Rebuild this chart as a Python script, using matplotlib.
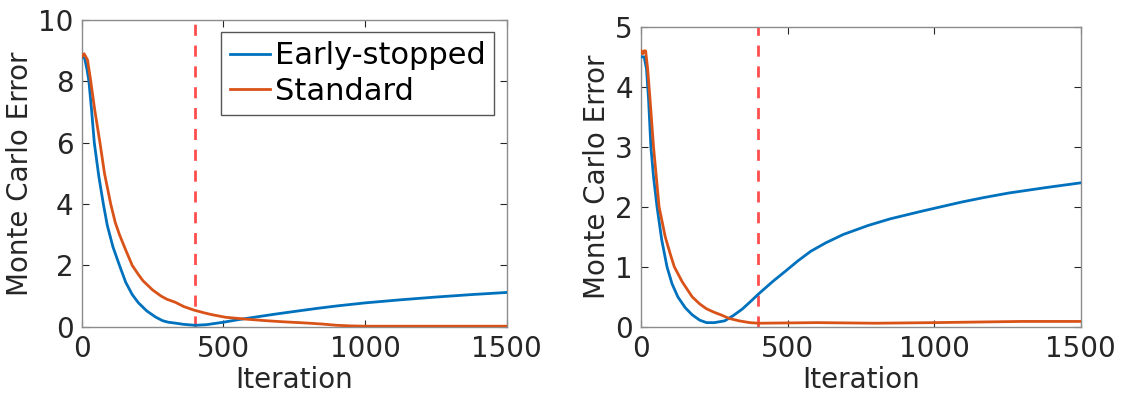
import numpy as np
import matplotlib.pyplot as plt

# left panel
it_l_es = [0, 10, 18, 25, 35, 44, 60, 76, 90, 110, 133, 155, 178, 200, 229, 260, 285, 305, 330, 360, 400, 440, 500, 550, 600, 680, 750, 830, 900, 1000, 1125, 1250, 1375, 1500]
err_l_es = [8.8, 8.75, 8.4, 8.0, 7.0, 6.0, 4.9, 4.0, 3.3, 2.6, 2.0, 1.45, 1.05, 0.78, 0.52, 0.32, 0.2, 0.15, 0.12, 0.08, 0.05, 0.07, 0.15, 0.23, 0.3, 0.41, 0.5, 0.6, 0.68, 0.78, 0.88, 0.97, 1.05, 1.12]
it_l_st = [0, 8, 20, 30, 45, 64, 80, 102, 118, 133, 155, 178, 200, 216, 250, 280, 300, 330, 360, 394, 430, 457, 508, 580, 650, 700, 800, 850, 900, 950, 1000, 1200, 1500]
err_l_st = [8.8, 8.9, 8.7, 8.1, 7.1, 6.0, 5.0, 4.0, 3.4, 3.0, 2.5, 2.0, 1.7, 1.5, 1.2, 1.0, 0.9, 0.8, 0.66, 0.55, 0.46, 0.4, 0.31, 0.25, 0.2, 0.17, 0.12, 0.09, 0.05, 0.03, 0.02, 0.02, 0.02]

# right panel
it_r_es = [0, 10, 18, 25, 33, 42, 54, 70, 88, 105, 125, 150, 174, 200, 223, 250, 285, 315, 346, 375, 401, 450, 493, 535, 579, 630, 690, 775, 850, 960, 1094, 1170, 1254, 1380, 1500]
err_r_es = [4.5, 4.5, 4.3, 3.8, 3.0, 2.5, 2.0, 1.45, 1.0, 0.72, 0.5, 0.32, 0.2, 0.11, 0.07, 0.07, 0.1, 0.19, 0.3, 0.43, 0.55, 0.76, 0.93, 1.1, 1.26, 1.40, 1.54, 1.69, 1.80, 1.93, 2.08, 2.155, 2.23, 2.32, 2.4]
it_r_st = [0, 5, 10, 15, 22, 30, 42, 61, 82, 100, 113, 140, 174, 200, 223, 250, 272, 300, 334, 370, 401, 600, 800, 1000, 1300, 1500]
err_r_st = [4.6, 4.55, 4.6, 4.6, 4.3, 3.8, 3.0, 2.0, 1.5, 1.2, 1.0, 0.75, 0.5, 0.38, 0.3, 0.24, 0.2, 0.14, 0.1, 0.07, 0.06, 0.07, 0.06, 0.07, 0.09, 0.09]

stop_iter = 400

blue = '#0072BD'
orange = '#D95319'
dark = '#262626'

plt.rcParams['font.family'] = 'DejaVu Sans'

fig = plt.figure(figsize=(11.21, 4.07), dpi=100)
ax1 = fig.add_axes([0.073, 0.197, 0.379, 0.754])
ax2 = fig.add_axes([0.572, 0.197, 0.392, 0.737])

panels = [
    (ax1, it_l_es, err_l_es, it_l_st, err_l_st, 10, [0, 2, 4, 6, 8, 10]),
    (ax2, it_r_es, err_r_es, it_r_st, err_r_st, 5, [0, 1, 2, 3, 4, 5]),
]

for ax, xe, ye, xs, ys, ymax, yt in panels:
    ax.plot(xe, ye, color=blue, lw=2, label='Early-stopped', zorder=3)
    ax.plot(xs, ys, color=orange, lw=2, label='Standard', zorder=3)
    ax.axvline(stop_iter, color='#FF4D4D', lw=2, ls=(0, (4, 3.5)), zorder=2)
    ax.set_xlim(0, 1500)
    ax.set_ylim(0, ymax)
    ax.set_xticks([0, 500, 1000, 1500])
    ax.set_yticks(yt)
    ax.tick_params(direction='in', top=True, right=True, labelsize=20,
                   colors=dark, length=5, width=0.8, pad=6)
    for s in ax.spines.values():
        s.set_color('#8c8c8c')
        s.set_linewidth(1)
    ax.set_xlabel('Iteration', fontsize=20, color=dark, labelpad=2)
    ax.set_ylabel('Monte Carlo Error', fontsize=20, color=dark, labelpad=3)

leg = ax1.legend(loc='upper right', fontsize=22, handlelength=1.3,
                 handletextpad=0.15, borderpad=0.3, labelspacing=0.22,
                 borderaxespad=0.4, fancybox=False, framealpha=1)
leg.get_frame().set_edgecolor('#555555')
leg.get_frame().set_linewidth(1)

fig.savefig('out.png', dpi=100)
